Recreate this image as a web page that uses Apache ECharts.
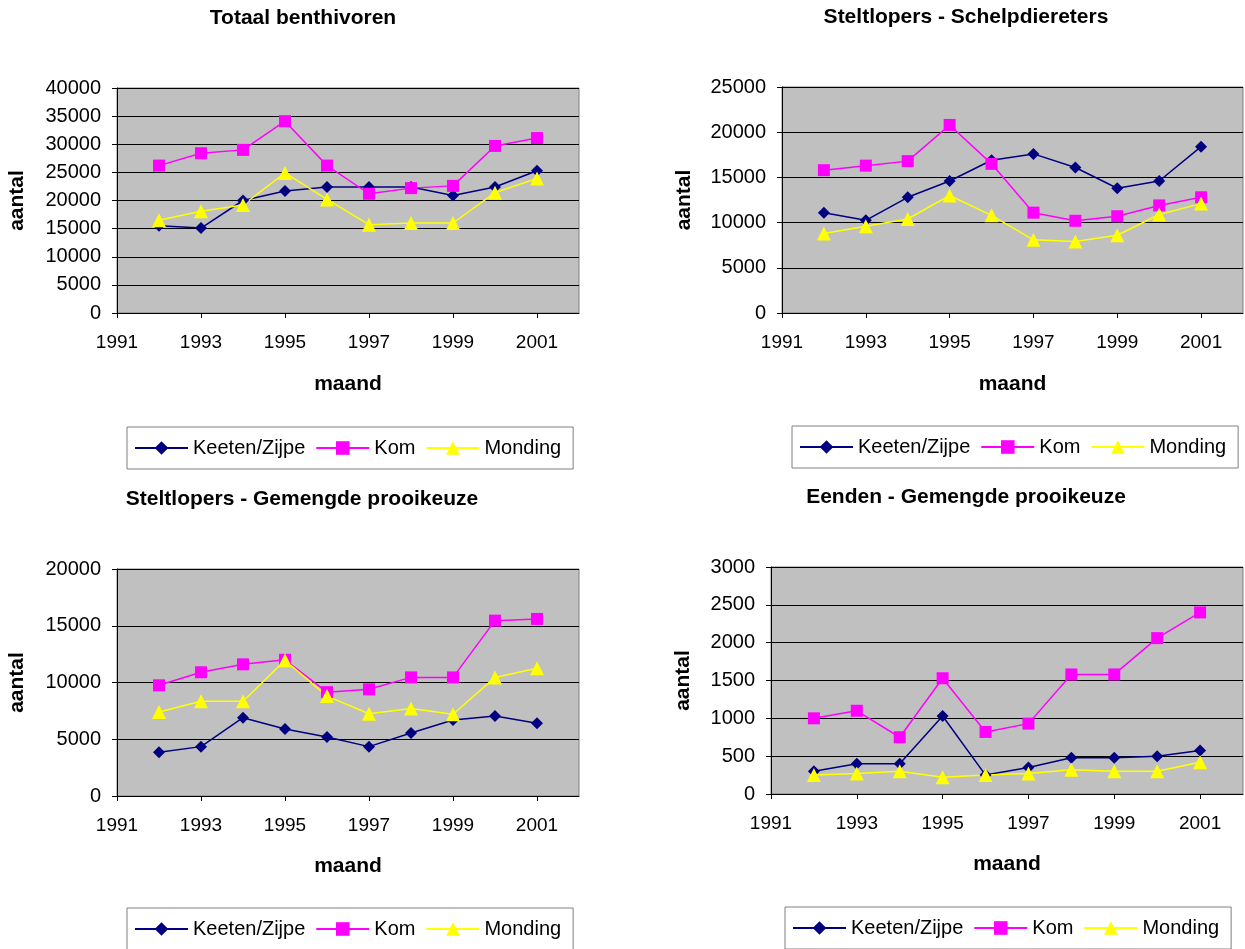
<!DOCTYPE html>
<html>
<head>
<meta charset="utf-8">
<script src="https://cdn.jsdelivr.net/npm/echarts@6/dist/echarts.min.js"></script>
<style>
  html, body { margin: 0; padding: 0; background: #ffffff; }
  #chart { width: 1245px; height: 949px; }
</style>
</head>
<body>
<div id="chart"></div>
<script>
// Axis categories (the x axis runs from 1991 to 2002, labelled every second year)
const axisYears = ['1991', '1992', '1993', '1994', '1995', '1996', '1997', '1998', '1999', '2000', '2001', '2002'];
// Years with observations
const years = ['1992', '1993', '1994', '1995', '1996', '1997', '1998', '1999', '2000', '2001'];

const seriesNames = ['Keeten/Zijpe', 'Kom', 'Monding'];

// Totaal benthivoren
const totaalKeeten  = [15500, 15100, 20000, 21700, 22400, 22400, 22400, 20900, 22400, 25300];
const totaalKom     = [26200, 28400, 29000, 34100, 26200, 21200, 22200, 22600, 29700, 31100];
const totaalMonding = [16500, 18100, 19200, 24900, 20200, 15700, 16000, 16000, 21400, 23900];

// Steltlopers - Schelpdiereters
const schelpKeeten  = [11100, 10250, 12800, 14600, 16900, 17600, 16100, 13800, 14600, 18400];
const schelpKom     = [15800, 16300, 16800, 20800, 16500, 11100, 10200, 10700, 11900, 12800];
const schelpMonding = [8800, 9600, 10400, 13000, 10800, 8100, 7900, 8600, 10900, 12100];

// Steltlopers - Gemengde prooikeuze
const gemengdKeeten  = [3850, 4350, 6900, 5900, 5200, 4350, 5550, 6700, 7050, 6400];
const gemengdKom     = [9750, 10900, 11600, 12000, 9150, 9400, 10450, 10450, 15450, 15600];
const gemengdMonding = [7400, 8350, 8350, 11950, 8800, 7250, 7700, 7200, 10450, 11250];

// Eenden - Gemengde prooikeuze
const eendenKeeten  = [300, 400, 400, 1030, 250, 350, 480, 480, 500, 575];
const eendenKom     = [1000, 1100, 750, 1530, 820, 930, 1580, 1580, 2060, 2400];
const eendenMonding = [250, 270, 300, 220, 250, 270, 320, 300, 300, 420];

// Y axis scales per panel
const yMax      = [40000, 25000, 20000, 3000];
const yInterval = [5000, 5000, 5000, 500];

const panelTitles = [
  'Totaal benthivoren',
  'Steltlopers - Schelpdiereters',
  'Steltlopers - Gemengde prooikeuze',
  'Eenden - Gemengde prooikeuze'
];

const panelData = [
  [totaalKeeten, totaalKom, totaalMonding],
  [schelpKeeten, schelpKom, schelpMonding],
  [gemengdKeeten, gemengdKom, gemengdMonding],
  [eendenKeeten, eendenKom, eendenMonding]
];

const FONT = "'Liberation Sans', Arial, sans-serif";

// Layout of the four panels
const grids = [
  { left: 117, top: 88,  width: 462, height: 225 },
  { left: 782, top: 87,  width: 461, height: 226 },
  { left: 117, top: 569, width: 462, height: 227 },
  { left: 771, top: 567, width: 472, height: 227 }
];
const titlePos  = [[303, 8], [966, 7], [302, 489], [966, 487]];
const legendPos = [[127, 427], [792, 426], [127, 908], [785, 907]];
const yNameGap  = [89, 87, 89, 77];
const xNameGap  = [61, 61, 60, 60];

const seriesStyle = [
  { color: '#000080', symbol: 'diamond',  symbolSize: 12 },
  { color: '#FF00FF', symbol: 'rect',     symbolSize: 12 },
  { color: '#FFFF00', symbol: 'triangle', symbolSize: 14 }
];

const option = {
  animation: false,
  backgroundColor: '#ffffff',
  textStyle: { fontFamily: FONT },
  title: panelTitles.map((t, i) => ({
    text: t,
    left: titlePos[i][0],
    top: titlePos[i][1],
    textAlign: 'center',
    padding: 0,
    textStyle: { fontFamily: FONT, fontSize: 21, fontWeight: 'bold', color: '#000' }
  })),
  grid: grids.map(g => Object.assign({
    show: true,
    backgroundColor: '#C0C0C0',
    borderColor: '#808080',
    borderWidth: 1,
    containLabel: false
  }, g)),
  legend: legendPos.map(p => ({
    data: seriesNames,
    left: p[0],
    top: p[1],
    orient: 'horizontal',
    backgroundColor: '#ffffff',
    borderColor: '#808080',
    borderWidth: 1,
    borderRadius: 0,
    padding: [11, 12, 11, 7],
    itemGap: 10,
    itemWidth: 53,
    itemHeight: 17,
    selectedMode: false,
    textStyle: { fontFamily: FONT, fontSize: 20, color: '#000' }
  })),
  xAxis: grids.map((g, i) => ({
    type: 'category',
    gridIndex: i,
    data: axisYears,
    boundaryGap: false,
    name: 'maand',
    nameLocation: 'middle',
    nameGap: xNameGap[i],
    nameTextStyle: { fontFamily: FONT, fontSize: 21, fontWeight: 'bold', color: '#000' },
    axisLine: { show: true, lineStyle: { color: '#000', width: 1 } },
    axisTick: { show: true, interval: 1, length: 5, inside: false, lineStyle: { color: '#000' } },
    axisLabel: { interval: 1, margin: 20, fontFamily: FONT, fontSize: 19, color: '#000' },
    splitLine: { show: false }
  })),
  yAxis: grids.map((g, i) => ({
    type: 'value',
    gridIndex: i,
    min: 0,
    max: yMax[i],
    interval: yInterval[i],
    name: 'aantal',
    nameLocation: 'middle',
    nameGap: yNameGap[i],
    nameTextStyle: { fontFamily: FONT, fontSize: 21, fontWeight: 'bold', color: '#000' },
    axisLine: { show: true, lineStyle: { color: '#000', width: 1 } },
    axisTick: { show: true, length: 5, inside: false, lineStyle: { color: '#000' } },
    axisLabel: {
      margin: 16, fontFamily: FONT, fontSize: 20, color: '#000',
      formatter: v => String(v)
    },
    splitLine: { show: true, lineStyle: { color: '#000', width: 1 } }
  })),
  series: []
};

panelData.forEach((sets, p) => {
  sets.forEach((values, s) => {
    const st = seriesStyle[s];
    option.series.push({
      type: 'line',
      name: seriesNames[s],
      xAxisIndex: p,
      yAxisIndex: p,
      data: years.map((y, k) => [y, values[k]]),
      symbol: st.symbol,
      symbolSize: st.symbolSize,
      showAllSymbol: true,
      lineStyle: { color: st.color, width: 1.5 },
      itemStyle: { color: st.color, borderWidth: 0 },
      emphasis: { disabled: true }
    });
  });
});

const chart = echarts.init(document.getElementById('chart'), null, { renderer: 'canvas' });
chart.setOption(option);
</script>
</body>
</html>
